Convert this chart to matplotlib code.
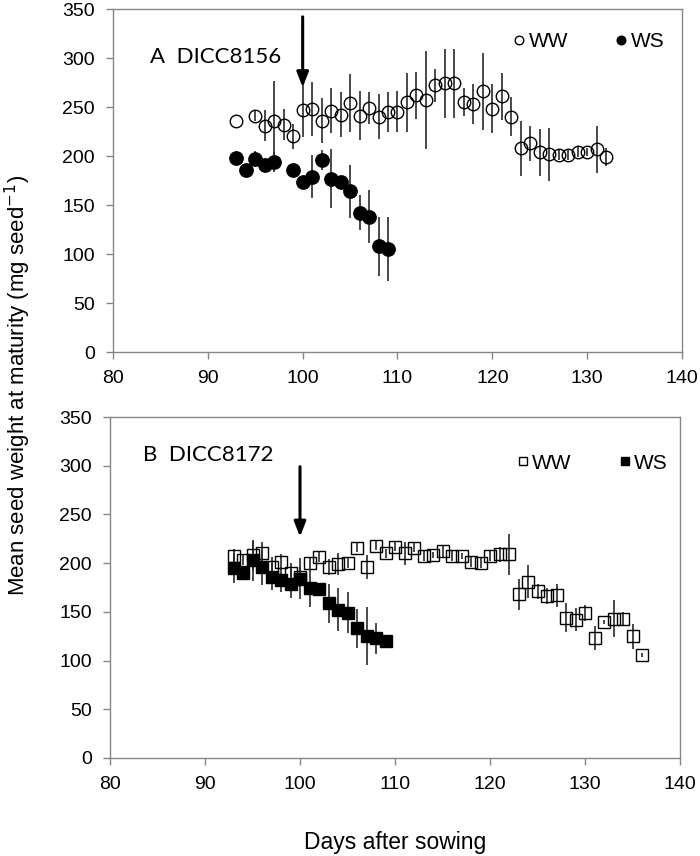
import matplotlib
matplotlib.use("Agg")
import matplotlib.pyplot as plt
from matplotlib.lines import Line2D
import numpy as np

# ---------------- data ----------------
# Panel A  DICC8156
a_ww_days = [93, 95, 96, 97, 98, 99, 100, 101, 102, 103, 104, 105, 106, 107, 108, 109, 110,
             111, 112, 113, 114, 115, 116, 117, 118, 119, 120, 121, 122, 123, 124, 125, 126,
             127, 128, 129, 130, 131, 132]
a_ww_mean = [236, 241, 231, 236, 232, 220, 247, 248, 236, 246, 242, 254, 241, 249, 240, 245, 245,
             255, 262, 257, 272, 274, 274, 255, 253, 266, 248, 261, 240, 208, 213, 204, 202,
             201, 201, 204, 204, 207, 199]
a_ww_err = [0, 5, 16, 41, 16, 13, 28, 28, 23, 23, 23, 30, 25, 16, 23, 20, 21,
            30, 24, 50, 17, 35, 35, 14, 20, 39, 25, 24, 20, 28, 18, 24, 27,
            5, 5, 5, 4, 24, 9]

a_ws_days = [93, 94, 95, 96, 97, 99, 100, 101, 102, 103, 104, 105, 106, 107, 108, 109]
a_ws_mean = [198, 186, 197, 191, 194, 186, 173, 179, 196, 177, 173, 164, 142, 138, 108, 105]
a_ws_err = [2, 2, 8, 3, 10, 3, 3, 22, 10, 30, 5, 27, 18, 27, 30, 33]

# Panel B  DICC8172
b_ww_days = list(range(93, 137))
b_ww_mean = [207, 203, 208, 210, 196, 201, 190, 186, 200, 206, 196, 199, 200, 216, 196, 218,
             210, 217, 210, 216, 207, 208, 212, 207, 207, 201, 200, 207, 209, 209, 168, 181,
             171, 166, 167, 144, 142, 149, 123, 140, 143, 143, 125, 106]
b_ww_err = [8, 5, 15, 12, 10, 8, 10, 10, 5, 5, 8, 11, 5, 5, 12, 5,
            5, 5, 12, 5, 5, 3, 6, 5, 3, 5, 5, 5, 8, 21, 16, 17,
            8, 8, 12, 15, 12, 8, 12, 2, 19, 7, 13, 2]

b_ws_days = list(range(93, 110))
b_ws_mean = [195, 190, 203, 196, 186, 183, 179, 184, 175, 173, 159, 152, 149, 133, 125, 123, 120]
b_ws_err = [15, 5, 21, 18, 14, 13, 15, 21, 20, 7, 20, 22, 21, 20, 30, 16, 3]

panel_titles = ["A  DICC8156", "B  DICC8172"]
legend_labels = ["WW", "WS"]
x_ticks = [80, 90, 100, 110, 120, 130, 140]
y_ticks = [0, 50, 100, 150, 200, 250, 300, 350]
xlabel = "Days after sowing"
ylabel = "Mean seed weight at maturity (mg seed$^{-1}$)"
arrow_day = 100

# ---------------- figure ----------------
W, H = 700, 856
fig = plt.figure(figsize=(W / 100, H / 100), dpi=100)

tick_font = dict(family=["Liberation Sans", "DejaVu Sans"], size=14)
spine_col = "#868686"

def px_axes(l, t, r, b):
    return fig.add_axes([l / W, 1 - b / H, (r - l) / W, (b - t) / H])

axA = px_axes(113, 9, 682, 352)
axB = px_axes(110, 417, 680, 758)

def style(ax):
    ax.set_xlim(80, 140)
    ax.set_ylim(0, 350)
    ax.set_xticks(x_ticks)
    ax.set_yticks(y_ticks)
    ax.set_xticklabels([str(v) for v in x_ticks], **tick_font)
    ax.set_yticklabels([str(v) for v in y_ticks], **tick_font)
    for s in ax.spines.values():
        s.set_color(spine_col)
        s.set_linewidth(1.0)
    ax.tick_params(axis="both", direction="out", length=5, width=1.0,
                   color=spine_col, labelcolor="black")
    ax.tick_params(axis="y", pad=8)
    ax.tick_params(axis="x", pad=8)

for ax in (axA, axB):
    style(ax)

ecol = "#2a2a2a"

# Panel A
axA.errorbar(a_ww_days, a_ww_mean, yerr=a_ww_err, fmt="o", ms=9, mfc="none",
             mec="black", mew=1.0, ecolor=ecol, elinewidth=1.2, capsize=0, zorder=3)
axA.errorbar(a_ws_days, a_ws_mean, yerr=a_ws_err, fmt="o", ms=9.6, mfc="black",
             mec="black", mew=1.0, ecolor=ecol, elinewidth=1.2, capsize=0, zorder=4)

# Panel B
axB.errorbar(b_ww_days, b_ww_mean, yerr=b_ww_err, fmt="s", ms=8, mfc="none",
             mec="black", mew=1.0, ecolor=ecol, elinewidth=1.2, capsize=0, zorder=3)
axB.errorbar(b_ws_days, b_ws_mean, yerr=b_ws_err, fmt="s", ms=8.4, mfc="black",
             mec="black", mew=1.0, ecolor=ecol, elinewidth=1.2, capsize=0, zorder=4)

# arrows
axA.annotate("", xy=(arrow_day, 270), xytext=(arrow_day, 342),
             arrowprops=dict(arrowstyle="-|>,head_width=0.35,head_length=0.9",
                             lw=2.2, color="black", shrinkA=0, shrinkB=0), zorder=5)
axB.annotate("", xy=(arrow_day, 227), xytext=(arrow_day, 299),
             arrowprops=dict(arrowstyle="-|>,head_width=0.35,head_length=0.9",
                             lw=2.2, color="black", shrinkA=0, shrinkB=0), zorder=5)

# panel titles
title_font = dict(family=["Lato", "DejaVu Sans"], size=16)
axA.text(83.9, 301, panel_titles[0], va="center", ha="left", **title_font)
axB.text(83.5, 311, panel_titles[1], va="center", ha="left", **title_font)

# legends
leg_font = {"family": ["Liberation Sans", "DejaVu Sans"], "size": 15}
hA = [Line2D([], [], ls="none", marker="o", ms=6.2, mfc="white", mec="black", mew=1.0),
      Line2D([], [], ls="none", marker="o", ms=6.2, mfc="black", mec="black")]
hB = [Line2D([], [], ls="none", marker="s", ms=5.8, mfc="white", mec="black", mew=1.0),
      Line2D([], [], ls="none", marker="s", ms=5.8, mfc="black", mec="black")]
axA.legend(hA, legend_labels, ncol=2, loc="center left", bbox_to_anchor=(0.69, 0.905),
           frameon=False, prop=leg_font, handlelength=0.5, handletextpad=0.2,
           columnspacing=2.3, borderaxespad=0)
axB.legend(hB, legend_labels, ncol=2, loc="center left", bbox_to_anchor=(0.70, 0.865),
           frameon=False, prop=leg_font, handlelength=0.5, handletextpad=0.2,
           columnspacing=2.3, borderaxespad=0)

# axis labels
fig.text(18 / W, 1 - 385 / H, ylabel, rotation=90, ha="center", va="center",
         family=["Liberation Sans", "DejaVu Sans"], size=16)
fig.text(395 / W, 1 - 842 / H, xlabel, ha="center", va="center",
         family=["Liberation Sans", "DejaVu Sans"], size=16.5)

fig.savefig("out.png", dpi=100, facecolor="white")
